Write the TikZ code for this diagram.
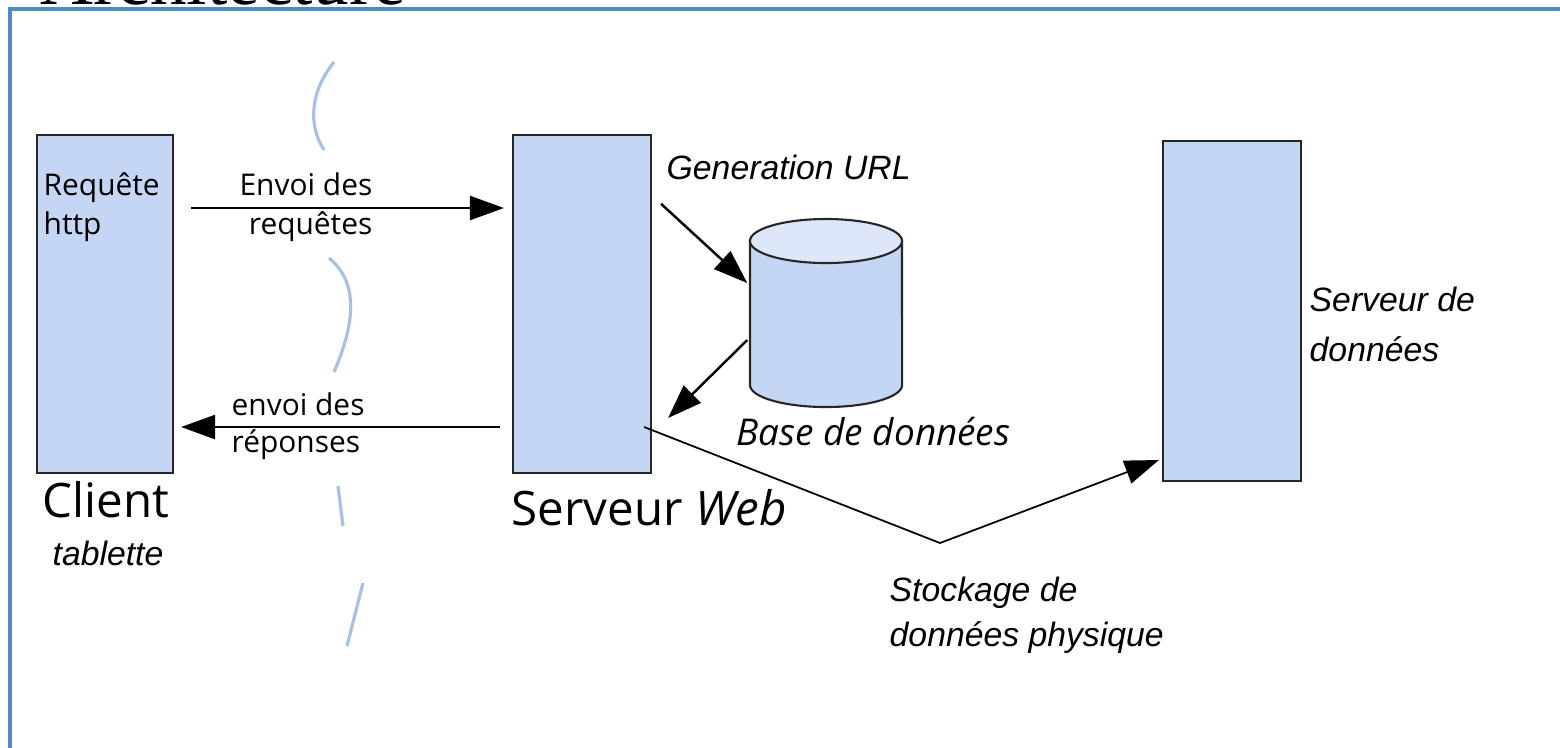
\documentclass[tikz,border=0pt]{standalone}
\usepackage{fontspec}
\setmainfont{Liberation Serif}
\newfontfamily\handfont{Open Sans}
\newfontfamily\arialfont{Liberation Sans}
\usetikzlibrary{arrows.meta,calc}

\definecolor{boxblue}{RGB}{196,214,243}
\definecolor{topblue}{RGB}{222,230,250}
\definecolor{wavyblue}{RGB}{168,192,232}
\definecolor{frameblue}{RGB}{84,134,204}

\begin{document}
\begin{tikzpicture}[x=0.01cm, y=-0.01cm,
	srv/.style = { draw=black!85, line width=0.6pt, fill=boxblue, inner sep=0pt },
	hand/.style = { font=\handfont\fontsize{8.5}{11}\selectfont, inner sep=0pt },
	big/.style = { font=\handfont\fontsize{13.5}{16}\selectfont, inner sep=0pt },
	lbl/.style = { font=\arialfont\itshape\fontsize{9.6}{13}\selectfont, inner sep=0pt },
	flow/.style = { line width=0.7pt, -{Triangle[length=0.34cm,width=0.24cm]} },
	wave/.style = { wavyblue, line width=0.9pt }]

  \useasboundingbox (0,0) rectangle (1560,747);
  \draw[frameblue, line width=1pt] (10,760) -- (10,9) -- (1570,9);
  \node[anchor=base west, inner sep=0pt, font=\fontsize{20.8}{24}\selectfont] (title) at (40,4) {Architecture};

  % the three tiers
  \node[srv, minimum width=1.36cm, minimum height=3.38cm] (client) at (105,304) {};
  \node[srv, minimum width=1.38cm, minimum height=3.38cm] (web) at (582,304) {};
  \node[srv, minimum width=1.38cm, minimum height=3.40cm] (data) at (1232,311) {};

  % database
  \node[minimum width=1.52cm, minimum height=1.88cm, inner sep=0pt] (db) at (826,313) {};
  \filldraw[draw=black!85, line width=0.6pt, fill=boxblue] (750,241) -- (750,385)
    arc[start angle=180, end angle=360, x radius=0.76cm, y radius=0.22cm] -- (902,241) -- cycle;
  \filldraw[draw=black!85, line width=0.6pt, fill=topblue] (826,241) ellipse[x radius=0.76cm, y radius=0.22cm];

  \node[hand, anchor=north west, align=left] (req) at (43,172) {Requête\\http};
  \node[hand, anchor=east, align=right, font=\handfont\fontsize{8.5}{11.2}\selectfont] (envoi) at (373,207) {Envoi des\\requêtes};
  \node[hand, anchor=west, align=left, font=\handfont\fontsize{8.5}{10.5}\selectfont] (retour) at (231,426) {envoi des\\réponses};
  \node[big] (clientlbl) at (106,500) {Client};
  \node[lbl] (tab) at (108,553) {tablette};
  \node[big, anchor=west] (weblbl) at (511,508) {Serveur \textit{Web}};
  \node[lbl, anchor=west] (gen) at (666,167) {Generation URL};
  \node[hand, anchor=west, font=\handfont\itshape\fontsize{10.5}{12}\selectfont] (dblbl) at (736,432) {Base de données};
  \node[lbl, anchor=north west, align=left, font=\arialfont\itshape\fontsize{9.6}{14.2}\selectfont] (datalbl) at (1309,286) {Serveur de\\données};
  \node[lbl, anchor=north west, align=left, font=\arialfont\itshape\fontsize{9.6}{13}\selectfont] (stock) at (889,576) {Stockage de\\données physique};

  \draw[flow] ($(client.east)+(17,-96)$) -- ($(web.west)+(-8,-96)$);
  \draw[flow] ($(web.west)+(-12,123)$) -- ($(client.east)+(7,123)$);
  \draw[flow] ($(web.north east)+(9,70)$) -- ($(db.west)+(-2,-30)$);
  \draw[flow] ($(db.west)+(-2,27)$) -- ($(web.east)+(16,114)$);
  \coordinate (bend) at (940,543);
  \draw[flow, line width=0.5pt] ($(web.east)+(-8,123)$) -- (bend) -- ($(data.west)+(-3,149)$);

  \draw[wave] (334,62) .. controls (310,92) and (308,125) .. (324,150);
  \draw[wave] (329,258) .. controls (362,285) and (352,330) .. (334,372);
  \draw[wave] (338,486) -- (343,526);
  \draw[wave] (363,583) -- (347,646);
\end{tikzpicture}
\end{document}
